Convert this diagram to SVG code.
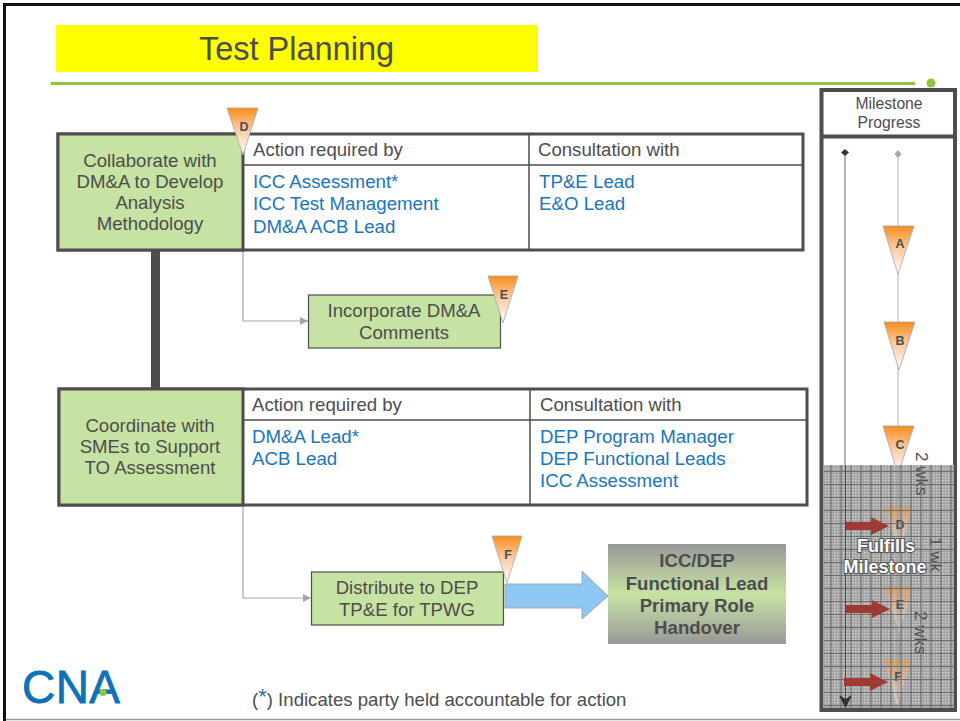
<svg xmlns="http://www.w3.org/2000/svg" width="960" height="721" viewBox="0 0 960 721">
<style>
text{font-family:"Liberation Sans",Arial,sans-serif;fill:#4d4d4d}
.t{font-size:18.600px}
.b{font-size:18.700px;fill:#1a75bb}
.m{text-anchor:middle}
.box{fill:#fff;stroke:#4d4d4d;stroke-width:3}
.g{fill:#c7e3a3;stroke:#4d4d4d;stroke-width:3}
.g2{fill:#c7e3a3;stroke:#4d4d4d;stroke-width:1.2}
.div{stroke:#4d4d4d;stroke-width:1.5;fill:none}
.conn{stroke:#a6a6a6;stroke-width:1.2;fill:none}
.tri{fill:url(#tg);stroke:#a6a6a6;stroke-width:.8}
.l{font-size:12.500px;font-weight:bold;text-anchor:middle}
.red{fill:#a03a34}
.wk{font-size:17px;fill:#4d4d4d}
</style>
<defs>
<linearGradient id="tg" x1="0" y1="0" x2="0" y2="1"><stop offset="0" stop-color="#f98e1d"/><stop offset=".45" stop-color="#fbc9a0"/><stop offset="1" stop-color="#fff"/></linearGradient>
<linearGradient id="hg" x1="0" y1="0" x2="0" y2="1"><stop offset="0" stop-color="#999"/><stop offset=".5" stop-color="#c7e3a3"/><stop offset="1" stop-color="#999"/></linearGradient>
<pattern id="fine" x="0" y="0" width="3" height="3" patternUnits="userSpaceOnUse"><rect width="3" height="3" fill="#a3a3a3"/><rect width="1.500" height="1.500" fill="#d0d0d0"/></pattern>
<pattern id="grid" x="826" y="465" width="10" height="13" patternUnits="userSpaceOnUse"><path d="M5 0V13M0 6.500H10" stroke="#6e6e6e" stroke-width="1.200" fill="none"/></pattern>
<marker id="ga" markerWidth="9" markerHeight="8" refX="8" refY="4" orient="auto" markerUnits="userSpaceOnUse"><path d="M0 0L8 4L0 8z" fill="#a6a6a6"/></marker>
</defs>
<rect width="960" height="721" fill="#fff"/>
<path d="M4.500 721V4.500H960" fill="none" stroke="#111" stroke-width="3"/>
<path d="M6 719.500H960" stroke="#999" stroke-width="1.500"/>
<g id="title"><rect x="56" y="25" width="482" height="47" fill="#ff0"/><text x="296.500" y="60" class="m" style="font-size:32.500px">Test Planning</text></g>
<g id="rule"><rect x="51" y="82" width="864" height="3" fill="#8cc63f"/><circle cx="931" cy="83" r="4.500" fill="#8cc63f"/></g>
<g id="connectors">
<path d="M155.500 250V388" stroke="#4d4d4d" stroke-width="9" fill="none"/>
<path class="conn" d="M243 250V321H308" marker-end="url(#ga)"/>
<path class="conn" d="M243 505V598H311" marker-end="url(#ga)"/>
</g>
<g id="n1">
<rect class="box" x="58" y="134" width="745" height="116"/>
<path class="div" d="M243 165H803M529 134V250"/>
<rect class="g" x="58" y="134" width="185" height="116"/>
<text class="t m" x="150" y="167">Collaborate with</text><text class="t m" x="150" y="188">DM&amp;A to Develop</text><text class="t m" x="150" y="209">Analysis</text><text class="t m" x="150" y="230">Methodology</text>
<text class="t" x="253" y="156">Action required by</text><text class="t" x="538" y="156">Consultation with</text>
<text class="b" x="253" y="188">ICC Assessment*</text><text class="b" x="253" y="210">ICC Test Management</text><text class="b" x="253" y="233">DM&amp;A ACB Lead</text>
<text class="b" x="539" y="188">TP&amp;E Lead</text><text class="b" x="539" y="210">E&amp;O Lead</text>
<path class="tri" d="M227 108H258L243 155z"/><text class="l" x="244" y="131">D</text>
</g>
<g id="n2">
<rect class="g2" x="308.500" y="295" width="192" height="53"/>
<text class="t m" x="404" y="317">Incorporate DM&amp;A</text><text class="t m" x="404" y="339">Comments</text>
<path class="tri" d="M488 276H518L503 323z"/><text class="l" x="504" y="299">E</text>
</g>
<g id="n3">
<rect class="box" x="59" y="389" width="748" height="116"/>
<path class="div" d="M243 420H807M530 389V505"/>
<rect class="g" x="59" y="389" width="184" height="116"/>
<text class="t m" x="150" y="432">Coordinate with</text><text class="t m" x="150" y="453">SMEs to Support</text><text class="t m" x="150" y="474">TO Assessment</text>
<text class="t" x="252" y="411">Action required by</text><text class="t" x="540" y="411">Consultation with</text>
<text class="b" x="252" y="443">DM&amp;A Lead*</text><text class="b" x="252" y="465">ACB Lead</text>
<text class="b" x="540" y="443">DEP Program Manager</text><text class="b" x="540" y="465">DEP Functional Leads</text><text class="b" x="540" y="487">ICC Assessment</text>
</g>
<g id="n4">
<rect class="g2" x="311.500" y="572" width="192" height="53"/>
<text class="t m" x="407" y="594">Distribute to DEP</text><text class="t m" x="407" y="616">TP&amp;E for TPWG</text>
<path class="tri" d="M492 536H522L507 583z"/><text class="l" x="508" y="559">F</text>
</g>
<g id="arrow"><path d="M505 584H582V571L608 596L582 619V608H505z" fill="#8dc8f3" stroke="#a6a6a6" stroke-width="1"/></g>
<g id="n5">
<rect x="608" y="544" width="178" height="100" fill="url(#hg)"/>
<g style="font-size:18.600px;font-weight:bold;text-anchor:middle"><text x="697" y="567">ICC/DEP</text><text x="697" y="590">Functional Lead</text><text x="697" y="612">Primary Role</text><text x="697" y="634">Handover</text></g>
</g>
<g id="milestones">
<rect x="821.500" y="90" width="133.500" height="620" fill="#fff" stroke="#4d4d4d" stroke-width="4"/>
<path d="M822 136.500H955" stroke="#4d4d4d" stroke-width="4"/>
<text class="m" x="889" y="109" style="font-size:15.700px">Milestone</text><text class="m" x="889" y="128" style="font-size:15.700px">Progress</text>
<path d="M898 154V470" stroke="#bdbdbd" stroke-width="1.200"/>
<path d="M845 154V466" stroke="#808080" stroke-width="1.200"/>
<path d="M845 149L849 152.500L845 156L841 152.500z" fill="#333"/>
<path d="M898 150L901.500 154L898 158L894.500 154z" fill="#a6a6a6"/>
<path class="tri" d="M883 226H914L898 274z"/><text class="l" x="900" y="248">A</text>
<path class="tri" d="M884 322H915L899 370z"/><text class="l" x="900" y="345">B</text>
<path class="tri" d="M883 426H914L898 474z"/><text class="l" x="900" y="449">C</text>
<rect x="824" y="465" width="130" height="243" fill="url(#fine)"/>
<path class="tri" d="M884 506H914L899 554z" opacity=".75"/>
<path class="tri" d="M884 586H914L899 634z" opacity=".75"/>
<path class="tri" d="M883 659H912L897 707z" opacity=".75"/>
<path d="M898 465V700" stroke="#888" stroke-width="1"/>
<rect x="824" y="465" width="130" height="243" fill="url(#fine)" opacity=".4"/>
<text class="l" x="900" y="529">D</text><text class="l" x="900" y="609">E</text><text class="l" x="898" y="681">F</text>
<text class="wk" transform="translate(916 452) rotate(90)">2 wks</text>
<text class="wk" transform="translate(930 537) rotate(90)">1 wk</text>
<text class="wk" transform="translate(915 611) rotate(90)">2 wks</text>
<rect x="824" y="465" width="130" height="243" fill="url(#grid)"/>
<path d="M845.500 465V700" stroke="#444" stroke-width="1"/>
<path d="M840 696L845.500 700L851 696L845.500 707z" fill="#333" stroke="#333" stroke-width="1.200"/>
<path class="red" d="M846 522H871V517L889 526L871 535V530H846z"/>
<path class="red" d="M846 605H872V600L890 609L872 618V613H846z"/>
<path class="red" d="M844 678H870V673L888 682L870 691V686H844z"/>
<g style="font-size:18px;font-weight:bold;text-anchor:middle"><text x="886" y="552" style="fill:#fff;paint-order:stroke;stroke:#555;stroke-width:2px">Fulfills</text><text x="885" y="573" style="fill:#fff;paint-order:stroke;stroke:#555;stroke-width:2px">Milestone</text></g>
</g>
<g id="logo"><text x="22" y="703" textLength="98" lengthAdjust="spacing" style="font-size:46px;fill:#0f72b8;stroke:#0f72b8;stroke-width:.8px">CNA</text><circle cx="103" cy="692.500" r="3.500" fill="#8cc63f"/></g>
<g id="note"><text x="252" y="706" style="font-size:18.600px">(<tspan dy="-2" style="fill:#1a75bb;font-size:22px">*</tspan><tspan dy="2">) Indicates party held accountable for action</tspan></text></g>
</svg>
